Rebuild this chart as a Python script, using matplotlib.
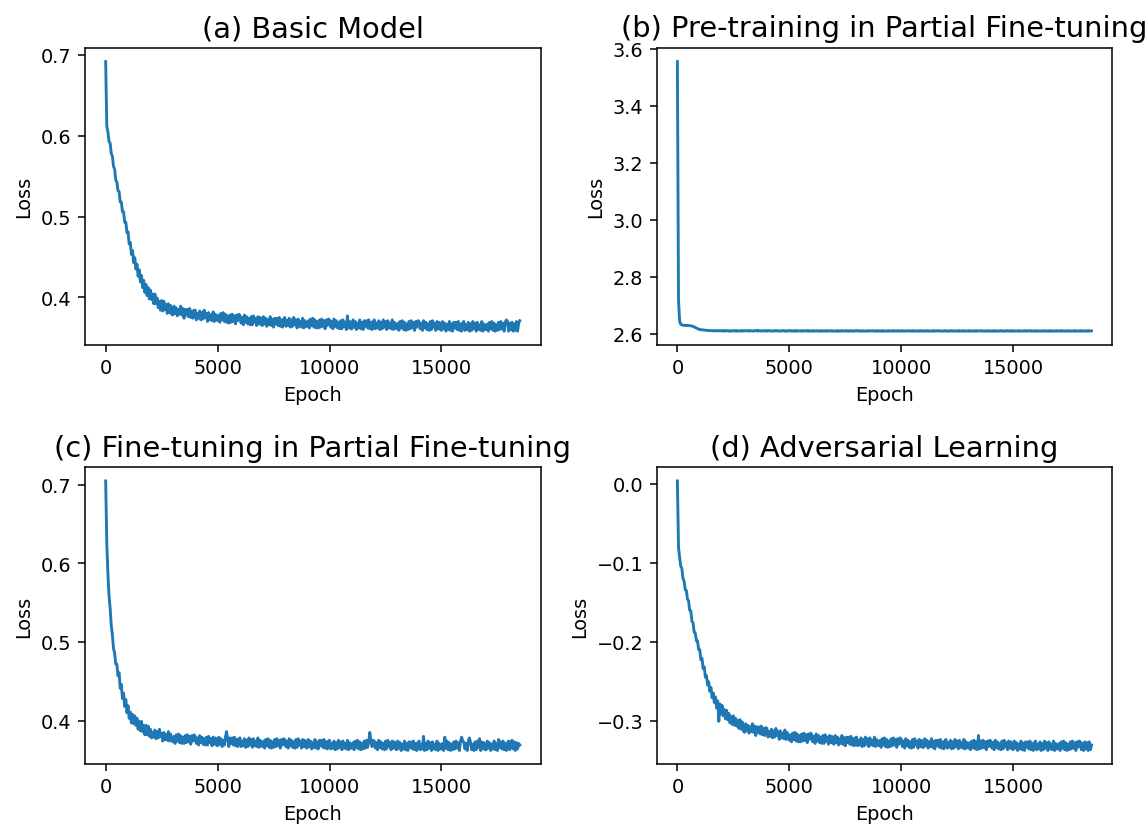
import numpy as np
import matplotlib
matplotlib.use("Agg")
import matplotlib.pyplot as plt

# Epochs sampled every 50 steps (0 .. 18500)
epochs = np.arange(0, 18501, 50)

titles = ['(a) Basic Model', '(b) Pre-training in Partial Fine-tuning',
          '(c) Fine-tuning in Partial Fine-tuning', '(d) Adversarial Learning']

# Loss values (one row = 1000 epochs)
loss_basic = [
    0.692, 0.612, 0.605, 0.593, 0.591, 0.578, 0.575, 0.562, 0.559, 0.545, 0.543, 0.532, 0.531, 0.518, 0.518, 0.506, 0.506, 0.493, 0.493, 0.480,
    0.481, 0.466, 0.468, 0.453, 0.458, 0.443, 0.449, 0.435, 0.441, 0.426, 0.434, 0.419, 0.427, 0.412, 0.421, 0.406, 0.416, 0.402, 0.412, 0.398,
    0.409, 0.397, 0.404, 0.392, 0.404, 0.392, 0.399, 0.387, 0.395, 0.384, 0.396, 0.383, 0.395, 0.385, 0.391, 0.380, 0.392, 0.381, 0.390, 0.379,
    0.378, 0.389, 0.380, 0.387, 0.377, 0.385, 0.379, 0.389, 0.378, 0.386, 0.374, 0.385, 0.378, 0.385, 0.376, 0.386, 0.375, 0.383, 0.374, 0.384,
    0.384, 0.372, 0.380, 0.374, 0.383, 0.372, 0.381, 0.373, 0.384, 0.375, 0.380, 0.370, 0.381, 0.372, 0.378, 0.371, 0.382, 0.370, 0.379, 0.372,
    0.371, 0.378, 0.369, 0.380, 0.372, 0.381, 0.370, 0.379, 0.369, 0.377, 0.368, 0.378, 0.369, 0.379, 0.370, 0.377, 0.367, 0.378, 0.371, 0.379,
    0.377, 0.368, 0.375, 0.366, 0.378, 0.369, 0.376, 0.367, 0.374, 0.366, 0.376, 0.366, 0.377, 0.369, 0.374, 0.365, 0.376, 0.367, 0.375, 0.366,
    0.365, 0.376, 0.367, 0.374, 0.364, 0.372, 0.366, 0.376, 0.365, 0.373, 0.363, 0.374, 0.367, 0.374, 0.365, 0.375, 0.364, 0.372, 0.363, 0.373,
    0.375, 0.364, 0.371, 0.365, 0.374, 0.363, 0.372, 0.364, 0.375, 0.366, 0.372, 0.362, 0.373, 0.364, 0.370, 0.363, 0.374, 0.362, 0.371, 0.364,
    0.364, 0.371, 0.362, 0.373, 0.365, 0.374, 0.363, 0.372, 0.362, 0.370, 0.362, 0.372, 0.363, 0.373, 0.364, 0.371, 0.361, 0.372, 0.365, 0.373,
    0.372, 0.363, 0.370, 0.361, 0.373, 0.364, 0.371, 0.362, 0.369, 0.361, 0.371, 0.361, 0.372, 0.364, 0.369, 0.360, 0.377, 0.362, 0.370, 0.361,
    0.361, 0.372, 0.363, 0.370, 0.360, 0.368, 0.362, 0.372, 0.361, 0.369, 0.360, 0.371, 0.364, 0.371, 0.362, 0.372, 0.361, 0.369, 0.360, 0.370,
    0.372, 0.361, 0.368, 0.362, 0.371, 0.360, 0.369, 0.361, 0.372, 0.363, 0.370, 0.360, 0.371, 0.362, 0.368, 0.361, 0.372, 0.360, 0.369, 0.362,
    0.361, 0.368, 0.359, 0.370, 0.362, 0.371, 0.360, 0.369, 0.359, 0.367, 0.360, 0.370, 0.361, 0.371, 0.362, 0.369, 0.359, 0.370, 0.363, 0.371,
    0.370, 0.361, 0.368, 0.359, 0.371, 0.362, 0.369, 0.360, 0.367, 0.359, 0.370, 0.360, 0.371, 0.363, 0.368, 0.359, 0.370, 0.361, 0.369, 0.360,
    0.359, 0.370, 0.361, 0.368, 0.358, 0.366, 0.360, 0.370, 0.359, 0.367, 0.358, 0.369, 0.362, 0.369, 0.360, 0.370, 0.359, 0.367, 0.358, 0.368,
    0.370, 0.359, 0.366, 0.360, 0.369, 0.358, 0.367, 0.359, 0.370, 0.361, 0.368, 0.358, 0.369, 0.360, 0.366, 0.359, 0.370, 0.358, 0.367, 0.360,
    0.360, 0.367, 0.358, 0.369, 0.361, 0.370, 0.359, 0.368, 0.358, 0.366, 0.359, 0.369, 0.360, 0.370, 0.361, 0.368, 0.358, 0.369, 0.372, 0.370,
    0.358, 0.368, 0.360, 0.369, 0.358, 0.367, 0.359, 0.370, 0.358, 0.368, 0.371]

loss_pretrain = [
    3.556, 2.720, 2.645, 2.634, 2.632, 2.631, 2.631, 2.630, 2.630, 2.630, 2.630, 2.629, 2.629, 2.628, 2.627, 2.625, 2.623, 2.621, 2.619, 2.617,
    2.616, 2.615, 2.615, 2.614, 2.614, 2.613, 2.613, 2.613, 2.612, 2.612, 2.612, 2.612, 2.611, 2.612, 2.611, 2.612, 2.611, 2.612, 2.611, 2.612,
    2.611, 2.612, 2.610, 2.612, 2.611, 2.612, 2.610, 2.611, 2.610, 2.612, 2.611, 2.612, 2.610, 2.612, 2.610, 2.611, 2.611, 2.612, 2.610, 2.612,
    2.611, 2.612, 2.611, 2.612, 2.610, 2.612, 2.611, 2.611, 2.610, 2.612, 2.611, 2.613, 2.610, 2.612, 2.611, 2.611, 2.610, 2.612, 2.611, 2.612,
    2.610, 2.612, 2.611, 2.612, 2.610, 2.611, 2.610, 2.612, 2.611, 2.612, 2.610, 2.611, 2.610, 2.612, 2.611, 2.612, 2.610, 2.611, 2.610, 2.612,
    2.611, 2.612, 2.610, 2.611, 2.610, 2.612, 2.610, 2.612, 2.611, 2.611, 2.610, 2.612, 2.610, 2.611, 2.611, 2.612, 2.610, 2.612, 2.610, 2.611,
    2.610, 2.612, 2.610, 2.611, 2.611, 2.612, 2.610, 2.611, 2.610, 2.612, 2.610, 2.611, 2.610, 2.612, 2.610, 2.611, 2.611, 2.612, 2.610, 2.611,
    2.610, 2.611, 2.610, 2.612, 2.610, 2.611, 2.610, 2.612, 2.611, 2.611, 2.610, 2.612, 2.610, 2.611, 2.610, 2.612, 2.610, 2.611, 2.610, 2.612,
    2.611, 2.612, 2.610, 2.611, 2.610, 2.612, 2.610, 2.611, 2.610, 2.611, 2.610, 2.612, 2.610, 2.611, 2.611, 2.612, 2.610, 2.611, 2.610, 2.612,
    2.610, 2.611, 2.610, 2.612, 2.610, 2.611, 2.610, 2.611, 2.610, 2.612, 2.610, 2.611, 2.610, 2.612, 2.610, 2.611, 2.610, 2.612, 2.610, 2.611,
    2.610, 2.612, 2.610, 2.611, 2.610, 2.611, 2.611, 2.612, 2.610, 2.611, 2.610, 2.612, 2.610, 2.611, 2.610, 2.611, 2.610, 2.612, 2.610, 2.611,
    2.610, 2.611, 2.610, 2.612, 2.610, 2.611, 2.610, 2.611, 2.610, 2.612, 2.610, 2.611, 2.611, 2.612, 2.610, 2.611, 2.610, 2.611, 2.610, 2.612,
    2.610, 2.611, 2.610, 2.611, 2.610, 2.612, 2.610, 2.611, 2.610, 2.611, 2.610, 2.612, 2.610, 2.611, 2.610, 2.612, 2.610, 2.611, 2.610, 2.611,
    2.610, 2.612, 2.610, 2.611, 2.610, 2.611, 2.610, 2.612, 2.610, 2.611, 2.611, 2.612, 2.610, 2.611, 2.610, 2.611, 2.610, 2.612, 2.610, 2.611,
    2.610, 2.611, 2.610, 2.612, 2.610, 2.611, 2.610, 2.611, 2.610, 2.612, 2.610, 2.611, 2.610, 2.611, 2.610, 2.612, 2.610, 2.611, 2.610, 2.612,
    2.610, 2.611, 2.610, 2.611, 2.610, 2.612, 2.610, 2.611, 2.610, 2.611, 2.610, 2.612, 2.610, 2.611, 2.611, 2.612, 2.610, 2.611, 2.610, 2.611,
    2.610, 2.612, 2.610, 2.611, 2.610, 2.611, 2.610, 2.612, 2.610, 2.611, 2.610, 2.611, 2.610, 2.612, 2.610, 2.611, 2.610, 2.611, 2.610, 2.612,
    2.610, 2.611, 2.610, 2.612, 2.610, 2.611, 2.610, 2.611, 2.610, 2.612, 2.610, 2.611, 2.610, 2.611, 2.610, 2.612, 2.610, 2.611, 2.610, 2.611,
    2.610, 2.612, 2.610, 2.611, 2.610, 2.611, 2.610, 2.612, 2.610, 2.611, 2.611]

loss_finetune = [
    0.705, 0.625, 0.587, 0.559, 0.543, 0.521, 0.509, 0.492, 0.486, 0.472, 0.472, 0.457, 0.461, 0.441, 0.446, 0.428, 0.435, 0.418, 0.427, 0.410,
    0.419, 0.403, 0.411, 0.397, 0.408, 0.396, 0.406, 0.394, 0.403, 0.389, 0.399, 0.387, 0.399, 0.386, 0.394, 0.382, 0.394, 0.382, 0.393, 0.380,
    0.389, 0.378, 0.385, 0.379, 0.388, 0.377, 0.386, 0.378, 0.389, 0.380, 0.384, 0.374, 0.385, 0.376, 0.382, 0.375, 0.386, 0.374, 0.383, 0.376,
    0.373, 0.380, 0.371, 0.382, 0.374, 0.383, 0.372, 0.381, 0.371, 0.379, 0.371, 0.381, 0.372, 0.382, 0.373, 0.380, 0.370, 0.381, 0.374, 0.382,
    0.380, 0.371, 0.378, 0.369, 0.381, 0.372, 0.379, 0.370, 0.377, 0.369, 0.379, 0.369, 0.380, 0.372, 0.377, 0.368, 0.379, 0.370, 0.378, 0.369,
    0.368, 0.379, 0.370, 0.377, 0.367, 0.375, 0.369, 0.379, 0.386, 0.376, 0.367, 0.378, 0.371, 0.378, 0.369, 0.379, 0.368, 0.376, 0.367, 0.377,
    0.378, 0.367, 0.374, 0.368, 0.377, 0.366, 0.375, 0.367, 0.378, 0.369, 0.376, 0.366, 0.377, 0.368, 0.374, 0.367, 0.378, 0.366, 0.375, 0.368,
    0.367, 0.374, 0.365, 0.376, 0.368, 0.377, 0.366, 0.375, 0.365, 0.373, 0.366, 0.376, 0.367, 0.377, 0.368, 0.375, 0.365, 0.376, 0.369, 0.377,
    0.376, 0.367, 0.374, 0.365, 0.377, 0.368, 0.375, 0.366, 0.373, 0.365, 0.376, 0.366, 0.377, 0.369, 0.374, 0.365, 0.376, 0.367, 0.375, 0.366,
    0.365, 0.376, 0.367, 0.374, 0.364, 0.372, 0.366, 0.376, 0.365, 0.373, 0.364, 0.375, 0.368, 0.375, 0.366, 0.376, 0.365, 0.373, 0.364, 0.374,
    0.375, 0.364, 0.371, 0.365, 0.374, 0.363, 0.372, 0.364, 0.375, 0.366, 0.373, 0.363, 0.374, 0.365, 0.371, 0.364, 0.375, 0.363, 0.372, 0.365,
    0.365, 0.372, 0.363, 0.374, 0.366, 0.375, 0.364, 0.373, 0.363, 0.371, 0.364, 0.374, 0.365, 0.375, 0.366, 0.373, 0.385, 0.374, 0.367, 0.375,
    0.374, 0.365, 0.372, 0.363, 0.375, 0.366, 0.373, 0.364, 0.371, 0.363, 0.374, 0.364, 0.375, 0.367, 0.372, 0.363, 0.374, 0.365, 0.373, 0.364,
    0.363, 0.374, 0.365, 0.372, 0.362, 0.370, 0.364, 0.374, 0.363, 0.371, 0.362, 0.373, 0.366, 0.373, 0.364, 0.374, 0.363, 0.371, 0.362, 0.372,
    0.374, 0.363, 0.370, 0.364, 0.380, 0.362, 0.371, 0.363, 0.374, 0.365, 0.372, 0.362, 0.373, 0.364, 0.370, 0.363, 0.374, 0.362, 0.371, 0.364,
    0.364, 0.371, 0.362, 0.379, 0.365, 0.374, 0.363, 0.372, 0.362, 0.370, 0.363, 0.373, 0.364, 0.374, 0.365, 0.372, 0.362, 0.373, 0.379, 0.374,
    0.373, 0.364, 0.371, 0.362, 0.374, 0.378, 0.372, 0.363, 0.370, 0.362, 0.373, 0.363, 0.374, 0.366, 0.377, 0.362, 0.373, 0.364, 0.372, 0.363,
    0.363, 0.374, 0.365, 0.372, 0.362, 0.370, 0.364, 0.374, 0.363, 0.371, 0.362, 0.376, 0.366, 0.373, 0.364, 0.374, 0.363, 0.371, 0.362, 0.372,
    0.374, 0.363, 0.370, 0.375, 0.364, 0.373, 0.362, 0.372, 0.364, 0.371, 0.369]

loss_adv = [
    0.004, -0.080, -0.093, -0.104, -0.107, -0.120, -0.123, -0.134, -0.135, -0.146, -0.148, -0.160, -0.161, -0.174, -0.176, -0.188, -0.189, -0.199, -0.199, -0.210,
    -0.210, -0.223, -0.221, -0.234, -0.232, -0.245, -0.243, -0.255, -0.251, -0.263, -0.258, -0.271, -0.265, -0.277, -0.270, -0.284, -0.275, -0.301, -0.279, -0.292,
    -0.281, -0.294, -0.286, -0.298, -0.287, -0.299, -0.291, -0.303, -0.295, -0.305, -0.294, -0.306, -0.297, -0.307, -0.300, -0.310, -0.299, -0.311, -0.302, -0.313,
    -0.315, -0.304, -0.313, -0.306, -0.316, -0.308, -0.314, -0.304, -0.315, -0.307, -0.319, -0.308, -0.315, -0.308, -0.317, -0.307, -0.318, -0.310, -0.319, -0.309,
    -0.310, -0.321, -0.314, -0.320, -0.311, -0.322, -0.313, -0.321, -0.310, -0.319, -0.314, -0.324, -0.313, -0.322, -0.316, -0.323, -0.312, -0.324, -0.315, -0.322,
    -0.325, -0.318, -0.327, -0.316, -0.324, -0.315, -0.326, -0.317, -0.327, -0.319, -0.327, -0.317, -0.326, -0.316, -0.325, -0.318, -0.328, -0.317, -0.324, -0.316,
    -0.318, -0.327, -0.320, -0.329, -0.317, -0.326, -0.319, -0.328, -0.321, -0.329, -0.319, -0.329, -0.318, -0.326, -0.321, -0.330, -0.319, -0.328, -0.320, -0.329,
    -0.330, -0.319, -0.328, -0.321, -0.331, -0.323, -0.329, -0.319, -0.330, -0.322, -0.332, -0.321, -0.328, -0.321, -0.330, -0.320, -0.331, -0.323, -0.332, -0.322,
    -0.321, -0.332, -0.325, -0.331, -0.322, -0.333, -0.324, -0.332, -0.321, -0.330, -0.323, -0.333, -0.322, -0.331, -0.325, -0.332, -0.321, -0.333, -0.324, -0.331,
    -0.332, -0.325, -0.334, -0.323, -0.331, -0.322, -0.333, -0.324, -0.334, -0.326, -0.333, -0.323, -0.332, -0.322, -0.331, -0.324, -0.334, -0.323, -0.330, -0.322,
    -0.324, -0.333, -0.326, -0.335, -0.323, -0.332, -0.325, -0.334, -0.327, -0.335, -0.324, -0.334, -0.323, -0.331, -0.326, -0.335, -0.324, -0.333, -0.325, -0.334,
    -0.334, -0.323, -0.332, -0.325, -0.335, -0.327, -0.333, -0.323, -0.334, -0.326, -0.336, -0.325, -0.332, -0.325, -0.334, -0.324, -0.335, -0.327, -0.336, -0.326,
    -0.324, -0.335, -0.328, -0.334, -0.325, -0.336, -0.327, -0.335, -0.324, -0.333, -0.326, -0.336, -0.325, -0.334, -0.328, -0.335, -0.324, -0.336, -0.327, -0.334,
    -0.335, -0.328, -0.337, -0.326, -0.334, -0.325, -0.336, -0.327, -0.337, -0.319, -0.336, -0.326, -0.335, -0.325, -0.334, -0.327, -0.337, -0.326, -0.333, -0.325,
    -0.326, -0.335, -0.328, -0.337, -0.325, -0.334, -0.327, -0.336, -0.329, -0.337, -0.326, -0.336, -0.325, -0.333, -0.328, -0.337, -0.326, -0.335, -0.327, -0.336,
    -0.337, -0.326, -0.335, -0.328, -0.338, -0.330, -0.336, -0.326, -0.337, -0.329, -0.338, -0.327, -0.334, -0.327, -0.336, -0.326, -0.337, -0.329, -0.338, -0.328,
    -0.326, -0.337, -0.330, -0.336, -0.327, -0.338, -0.329, -0.337, -0.326, -0.335, -0.328, -0.338, -0.327, -0.336, -0.330, -0.337, -0.326, -0.338, -0.329, -0.336,
    -0.336, -0.329, -0.338, -0.327, -0.335, -0.326, -0.337, -0.328, -0.338, -0.330, -0.337, -0.327, -0.336, -0.326, -0.335, -0.328, -0.338, -0.327, -0.334, -0.326,
    -0.327, -0.337, -0.329, -0.338, -0.327, -0.336, -0.328, -0.338, -0.327, -0.337, -0.331]

all_losses = [loss_basic, loss_pretrain, loss_finetune, loss_adv]

fig, axes = plt.subplots(2, 2, figsize=(8.29, 5.97), dpi=138.5)
plt.subplots_adjust(left=0.074, right=0.9687, bottom=0.075, top=0.9408,
                    wspace=0.255, hspace=0.414)

for ax, title, loss in zip(axes.flat, titles, all_losses):
    ax.plot(epochs, loss, color='#1f77b4')
    ax.set_title(title, fontsize=15)
    ax.set_xlabel('Epoch')
    ax.set_ylabel('Loss')

fig.savefig('out.png', dpi=138.5)
